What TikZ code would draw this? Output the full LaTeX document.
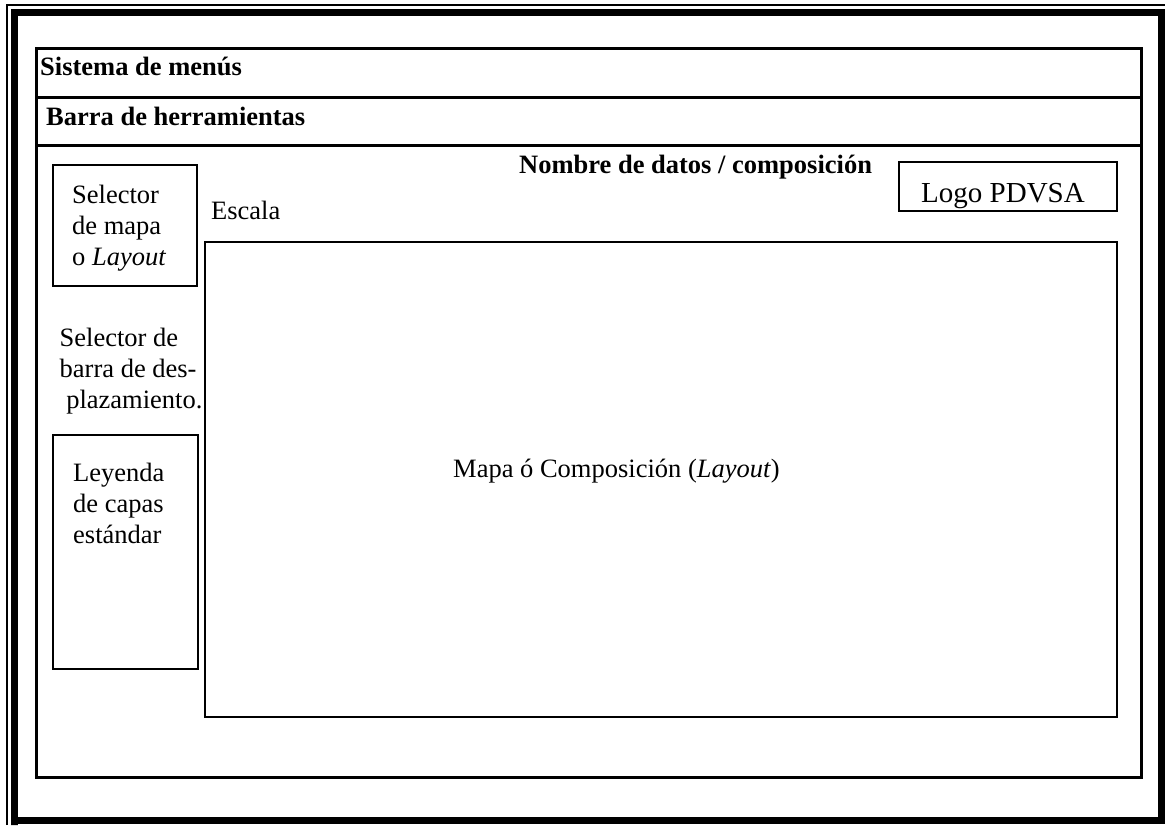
\documentclass[tikz,border=0pt]{standalone}
\usepackage{fontspec}
\setmainfont{Liberation Serif}
\begin{document}
\begin{tikzpicture}[x=1pt,y=-1pt,
  txt/.style={inner sep=0pt, anchor=base west, font=\fontsize{26.5}{31}\selectfont},
  btxt/.style={txt, font=\fontsize{26.5}{31}\selectfont\bfseries},
  mtxt/.style={inner sep=0pt, anchor=base west, align=left, font=\fontsize{26.5}{31}\selectfont},
  frame/.style={draw, line width=3pt},
  box/.style={draw, line width=2pt}]
\useasboundingbox (0,0) rectangle (1165,825);
% outer double border
\draw[line width=1.5pt] (7,825) -- (7,5) -- (1165,5);
\draw[line width=7pt] (14.5,825) -- (14.5,12) -- (1161.5,12) -- (1161.5,820) -- (14.5,820) -- cycle;
% main frame
\draw[frame] (36,48) rectangle (1141,777);
\coordinate (s1l) at (36,97);  \coordinate (s1r) at (1141,97);
\coordinate (s2l) at (36,145); \coordinate (s2r) at (1141,145);
\draw[frame] (s1l) -- (s1r);
\draw[frame] (s2l) -- (s2r);
% boxes
\draw[box] (52.5,165) rectangle (197,286);
\draw[box] (53,435) rectangle (198,669);
\draw[box] (205,242) rectangle (1117,717);
\draw[box] (899,162) rectangle (1117,211);
% texts
\node[btxt] (menus) at (40,75) {Sistema de menús};
\node[btxt] (barra) at (46,125) {Barra de herramientas};
\node[btxt] (nombre) at (519,173) {Nombre de datos / composición};
\node[inner sep=0pt, anchor=base, font=\fontsize{29}{34}\selectfont] (logo) at (1003,202) {Logo PDVSA};
\node[txt] (escala) at (211,219) {Escala};
\node[mtxt] (selmapa) at (72,265) {Selector\\de mapa\\o \textit{Layout}};
\node[mtxt] (selbarra) at (59.5,408) {Selector de\\barra de des-\\\ plazamiento.};
\node[mtxt] (leyenda) at (73,543) {Leyenda\\de capas\\estándar};
\node[txt] (mapa) at (453,477) {Mapa ó Composición (\textit{Layout})};
\end{tikzpicture}
\end{document}
